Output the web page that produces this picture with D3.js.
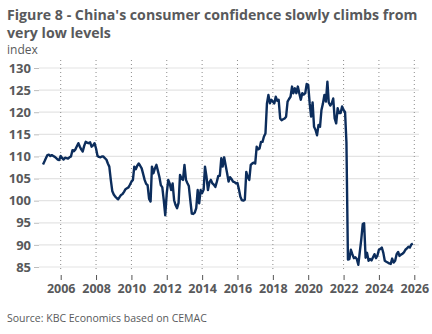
<!DOCTYPE html>
<html>
<head>
<meta charset="utf-8">
<script src="https://cdn.jsdelivr.net/npm/d3@7"></script>
<style>
  body { margin: 0; background: #fff; }
  svg { display: block; font-family: "Open Sans", sans-serif; }
</style>
</head>
<body>
<div id="chart"></div>
<script>
// monthly index, Jan 2005 .. Dec 2025
var startYear = 2005;
var cci = [
  108.2, 108.9, 109.6, 110.3, 110.4, 110.1, 110.3, 110.1, 109.9, 109.6, 109.3, 109.2, // 2005
  110.1, 109.6, 109.3, 109.7, 109.6, 109.5, 109.8, 110.0, 111.4, 111.2, 111.6, 112.3, // 2006
  113.0, 112.2, 111.6, 111.1, 112.4, 113.3, 113.1, 113.0, 113.2, 112.2, 112.5, 113.0, // 2007
  111.8, 110.1, 109.9, 109.8, 110.0, 110.0, 109.6, 109.3, 108.4, 107.7, 104.7, 102.2, // 2008
  101.4, 100.9, 100.6, 100.3, 100.8, 101.3, 101.5, 102.0, 102.6, 102.8, 103.0, 103.6, // 2009
  104.3, 104.7, 107.7, 107.1, 107.9, 108.4, 107.9, 107.3, 106.0, 104.7, 103.8, 103.5, // 2010
  100.4, 99.8, 107.7, 106.2, 107.3, 108.1, 106.8, 105.4, 103.5, 103.0, 100.0, 96.7,   // 2011
  101.7, 104.7, 103.9, 102.4, 103.9, 100.1, 99.0, 98.3, 99.5, 105.8, 105.0, 104.7,    // 2012
  108.1, 104.7, 104.0, 103.3, 100.1, 97.1, 97.0, 97.3, 98.3, 102.4, 99.4, 102.4,      // 2013
  101.7, 102.5, 107.7, 105.4, 102.4, 104.2, 104.7, 103.9, 103.6, 103.1, 104.3, 105.6, // 2014
  105.6, 109.6, 107.7, 109.8, 108.0, 106.2, 104.3, 105.3, 104.9, 104.3, 104.2, 103.9, // 2015
  104.0, 102.5, 100.9, 100.1, 100.0, 100.2, 106.5, 105.3, 104.7, 108.1, 108.4, 108.6, // 2016
  108.4, 112.2, 111.6, 111.8, 113.3, 113.3, 114.5, 115.2, 122.0, 123.9, 122.0, 122.8, // 2017
  122.4, 122.0, 123.5, 122.6, 122.8, 118.6, 118.2, 118.4, 118.6, 119.0, 122.4, 123.0, // 2018
  123.5, 125.8, 124.3, 125.4, 124.3, 125.8, 124.3, 122.8, 124.3, 124.0, 124.3, 126.4, // 2019
  126.2, 122.0, 119.0, 122.2, 116.7, 116.0, 114.8, 117.1, 116.7, 120.5, 122.0, 123.9, // 2020
  122.4, 126.9, 122.2, 121.5, 122.0, 123.1, 118.6, 117.5, 120.9, 119.8, 119.8, 121.3, // 2021
  120.5, 120.0, 113.2, 86.7, 86.8, 88.9, 87.9, 87.0, 87.2, 86.8, 85.5, 88.3,          // 2022
  91.2, 94.7, 94.9, 87.1, 88.2, 86.4, 86.8, 86.5, 87.2, 87.9, 87.0, 87.6,             // 2023
  88.9, 89.1, 89.4, 88.2, 86.4, 86.2, 86.0, 85.8, 85.7, 86.9, 86.0, 86.4,             // 2024
  87.9, 88.4, 87.5, 87.8, 88.0, 88.3, 88.9, 89.2, 89.6, 89.4, 90.1, 90.3              // 2025
];
var yTicks = [85, 90, 95, 100, 105, 110, 115, 120, 125, 130];
var xTickYears = [2006, 2008, 2010, 2012, 2014, 2016, 2018, 2020, 2022, 2024, 2026];

var titleLines = ["Figure 8 - China's consumer confidence slowly climbs from", "very low levels"];
var unitLabel = "index";
var sourceText = "Source: KBC Economics based on CEMAC";

var width = 432, height = 334;
var textColor = '#58595b', lineColor = '#0c2d5c';

var data = cci.map((v, i) => ({ date: new Date(startYear + Math.floor(i / 12), i % 12, 1), value: v }));

var svg = d3.select('#chart')
    .append('svg')
    .attr('width', width)
    .attr('height', height);

var x = d3.scaleTime()
    .domain([new Date(2006, 0, 1), new Date(2026, 0, 1)])
    .range([60.7, 414.3]);
var y = d3.scaleLinear()
    .domain([85, 130])
    .range([267, 68]);

var plotLeft = 39, plotRight = 419, plotTop = 60, plotBottom = 272;

// title, fitted to the original width
var title = svg.append('g').attr('fill', textColor).attr('font-weight', 'bold');
var t1 = title.append('text').attr('x', 7).attr('y', 20).attr('font-size', 16).text(titleLines[0]);
var fs = 16 * 411 / t1.node().getComputedTextLength();
t1.attr('font-size', fs);
title.append('text').attr('x', 7).attr('y', 38).attr('font-size', fs).text(titleLines[1]);

svg.append('text')
    .attr('x', 7).attr('y', 54)
    .attr('font-size', 12)
    .attr('fill', textColor)
    .text(unitLabel);

// horizontal grid
svg.append('g')
    .selectAll('line')
    .data(yTicks)
    .enter()
    .append('line')
    .attr('x1', plotLeft).attr('x2', plotRight)
    .attr('y1', d => y(d)).attr('y2', d => y(d))
    .attr('stroke', '#e4e4e4')
    .attr('stroke-width', 1.2);

// vertical dotted grid
svg.append('g')
    .selectAll('line')
    .data(xTickYears)
    .enter()
    .append('line')
    .attr('x1', d => x(new Date(d, 0, 1))).attr('x2', d => x(new Date(d, 0, 1)))
    .attr('y1', plotTop).attr('y2', plotBottom)
    .attr('stroke', '#8c8c8c')
    .attr('stroke-width', 1)
    .attr('stroke-dasharray', '1,3');

// y axis
var yAxis = d3.axisLeft(y).tickValues(yTicks).tickSize(5).tickPadding(3);
svg.append('g')
    .attr('transform', `translate(${plotLeft},0)`)
    .call(yAxis)
    .call(g => g.select('.domain').remove())
    .call(g => g.selectAll('line').attr('stroke', '#bdbdbd'))
    .call(g => g.selectAll('text')
        .attr('fill', textColor)
        .attr('font-size', 13)
        .attr('font-weight', 'bold')
        .attr('font-family', '"Open Sans", sans-serif'));

// x axis
var xAxis = d3.axisBottom(x)
    .tickValues(xTickYears.map(d => new Date(d, 0, 1)))
    .tickFormat(d3.timeFormat('%Y'))
    .tickSize(5)
    .tickPadding(4);
svg.append('g')
    .attr('transform', 'translate(0,275)')
    .call(xAxis)
    .call(g => g.select('.domain').remove())
    .call(g => g.selectAll('line').attr('stroke', '#555'))
    .call(g => g.selectAll('text')
        .attr('fill', textColor)
        .attr('font-size', 12.5)
        .attr('font-weight', 'bold')
        .attr('font-family', '"Open Sans", sans-serif'));

// the series
var line = d3.line()
    .x(d => x(d.date))
    .y(d => y(d.value));
svg.append('path')
    .datum(data)
    .attr('fill', 'none')
    .attr('stroke', lineColor)
    .attr('stroke-width', 2.4)
    .attr('stroke-linejoin', 'round')
    .attr('d', line);

svg.append('text')
    .attr('x', 7).attr('y', 322)
    .attr('font-size', 10.5)
    .attr('fill', textColor)
    .text(sourceText);
</script>
</body>
</html>
